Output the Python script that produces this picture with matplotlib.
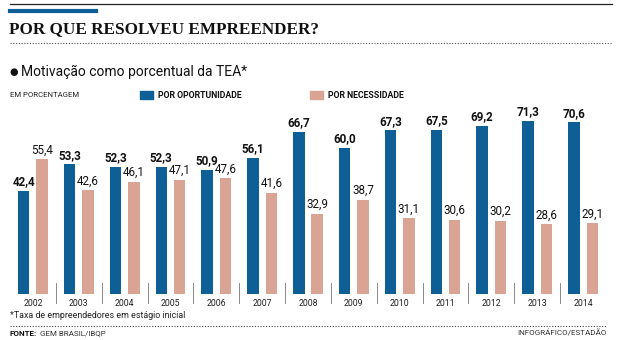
import matplotlib
matplotlib.use("Agg")
import matplotlib.pyplot as plt
from matplotlib import font_manager
import numpy as np

years = ["2002", "2003", "2004", "2005", "2006", "2007", "2008",
         "2009", "2010", "2011", "2012", "2013", "2014"]
oportunidade = [42.4, 53.3, 52.3, 52.3, 50.9, 56.1, 66.7,
                60.0, 67.3, 67.5, 69.2, 71.3, 70.6]
necessidade = [55.4, 42.6, 46.1, 47.1, 47.6, 41.6, 32.9,
               38.7, 31.1, 30.6, 30.2, 28.6, 29.1]

BLUE = "#0e5f96"
PINK = "#d9a494"

names = {f.name for f in font_manager.fontManager.ttflist}
narrow = "Liberation Sans Narrow" if "Liberation Sans Narrow" in names else "Roboto"

def fmt(v):
    return f"{v:.1f}".replace(".", ",")

fig = plt.figure(figsize=(6.2, 3.4), dpi=100)
W, H = 620, 340

def fx(px):
    return px / W

def fy(py):
    return 1 - py / H

# header rules and title
fig.add_artist(plt.Line2D([fx(10), fx(612)], [fy(4), fy(4)], color="#222222", lw=0.9))
fig.add_artist(plt.Line2D([fx(10), fx(96)], [fy(11), fy(11)], color=BLUE, lw=3))
fig.text(fx(9), fy(29), "POR QUE RESOLVEU EMPREENDER?", family="Liberation Serif",
         weight="bold", fontsize=12.3, va="center", ha="left", color="#111111")
fig.add_artist(plt.Line2D([fx(10), fx(612)], [fy(43), fy(43)], color="#555555",
                          lw=0.8, linestyle=(0, (1, 1.5))))

fig.text(fx(9), fy(72), "\u25cf", family="DejaVu Sans", fontsize=7,
         va="center", ha="left", color="#111111")
fig.text(fx(21), fy(72), "Motivação como porcentual da TEA*",
         family=["Roboto", "DejaVu Sans"], fontsize=10, va="center", ha="left",
         color="#111111")
fig.text(fx(10), fy(95), "EM PORCENTAGEM", family=narrow, fontsize=5.6,
         va="center", ha="left", color="#222222")

# legend
fig.add_artist(plt.Rectangle((fx(140), fy(99)), fx(13), 8 / H, color=BLUE))
fig.text(fx(158), fy(95), "POR OPORTUNIDADE", family=narrow, weight="bold",
         fontsize=6.3, va="center", ha="left", color="#111111")
fig.add_artist(plt.Rectangle((fx(310), fy(99)), fx(13), 8 / H, color=PINK))
fig.text(fx(328), fy(95), "POR NECESSIDADE", family=narrow, weight="bold",
         fontsize=6.3, va="center", ha="left", color="#111111")

# bars
ax = fig.add_axes([fx(10), fy(294), fx(596), (294 - 110) / H])
x = np.arange(len(years))
bw = 0.25
b1 = ax.bar(x - 0.2, oportunidade, bw, color=BLUE)
b2 = ax.bar(x + 0.2, necessidade, bw, color=PINK)
ax.bar_label(b1, labels=[fmt(v) for v in oportunidade], padding=2,
             family=narrow, weight="bold", fontsize=8.4, color="#111111")
ax.bar_label(b2, labels=[fmt(v) for v in necessidade], padding=2,
             family=narrow, fontsize=8.4, color="#111111")
ax.set_xlim(-0.5, len(years) - 0.5)
ax.set_ylim(0, 75.7)
ax.axis("off")

for i, yr in enumerate(years):
    ax.text(i, -1.9, yr, ha="center", va="top", family=narrow, fontsize=6.3,
            color="#222222")
for i in range(len(years) - 1):
    ax.plot([i + 0.5, i + 0.5], [-3.7, 4.5], color="#888888", lw=0.7,
            clip_on=False)

# footer
fig.text(fx(10), fy(316), "*Taxa de empreendedores em estágio inicial", family=narrow,
         fontsize=6.4, va="center", ha="left", color="#222222")
fig.add_artist(plt.Line2D([fx(10), fx(607)], [fy(326), fy(326)], color="#444444",
                          lw=0.8, linestyle=(0, (1, 1.5))))
fig.text(fx(10), fy(333), "FONTE:", family=narrow, weight="bold", fontsize=5.8,
         va="center", ha="left", color="#111111")
fig.text(fx(40), fy(333), "GEM BRASIL/IBQP", family=narrow, fontsize=5.8,
         va="center", ha="left", color="#333333")
fig.text(fx(607), fy(333), "INFOGRÁFICO/ESTADÃO", family=narrow, fontsize=5.8,
         va="center", ha="right", color="#333333")

fig.savefig("out.png", dpi=100, facecolor="white")
